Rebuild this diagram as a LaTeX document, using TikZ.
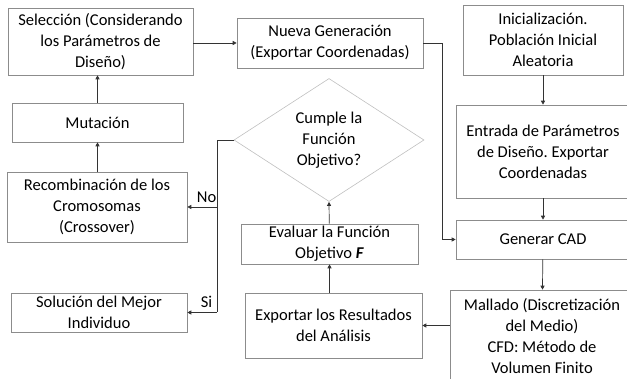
\documentclass[tikz,border=0pt]{standalone}
\usepackage{fontspec}
\setmainfont{Carlito}
\usetikzlibrary{arrows.meta,shapes.geometric}
\frenchspacing

\begin{document}
\begin{tikzpicture}[x=1pt, y=-1pt,
    font=\fontsize{16.5}{21}\selectfont, text=black,
    box/.style={draw=black!45, line width=0.6pt, align=center, inner sep=0pt},
    cond/.style={draw=black!25, line width=0.6pt, shape=diamond, align=center, inner sep=0pt},
    link/.style={draw=black!80, line width=0.7pt},
    arr/.style={link, -{Triangle[length=4pt, width=4pt]}}]

  \useasboundingbox (0, 0) rectangle (627, 379);

  % boxes
  \node[box, minimum width=185pt, minimum height=67pt] (sel) at (100.5, 41.5) {Selección (Considerando\\los Parámetros de\\Diseño)};
  \node[box, minimum width=171pt, minimum height=39pt] (mut) at (97.5, 122.5) {Mutación};
  \node[box, minimum width=180pt, minimum height=70pt] (rec) at (97, 207) {Recombinación de los\\Cromosomas\\(Crossover)};
  \node[box, minimum width=176pt, minimum height=39pt] (sol) at (99, 312.5) {Solución del Mejor\\Individuo};
  \node[box, minimum width=186pt, minimum height=50pt] (nue) at (330, 43) {Nueva Generación\\(Exportar Coordenadas)};
  \node[box, minimum width=160pt, minimum height=70pt] (ini) at (543, 40) {Inicialización.\\Población Inicial\\Aleatoria};
  \node[box, minimum width=174pt, minimum height=93pt] (ent) at (543, 151.5) {Entrada de Parámetros\\de Diseño. Exportar\\Coordenadas};
  \node[box, minimum width=174pt, minimum height=39pt] (gen) at (543, 239.5) {Generar CAD};
  \node[box, minimum width=184pt, minimum height=93pt] (mal) at (542, 336.5) {Mallado (Discretización\\del Medio)\\CFD: Método de\\Volumen Finito};
  \node[box, minimum width=177pt, minimum height=40pt] (eva) at (329.5, 244) {Evaluar la Función\\Objetivo \textbf{\textit{F}}};
  \node[box, minimum width=177pt, minimum height=65pt] (exp) at (333.5, 325.5) {Exportar los Resultados\\del Análisis};
  \node[cond, minimum width=190pt, minimum height=110pt] (cum) at (329, 140) {Cumple la\\Función\\Objetivo?};

  \coordinate (split) at (217, 140);
  \coordinate (turn) at (442, 43);

  % connectors
  \draw[arr] (ini) -- (ent);
  \draw[arr] (ent) -- (gen);
  \draw[arr] (gen) -- (mal);
  \draw[arr] (exp.east -| mal.west) -- (exp.east);
  \draw[arr] (eva.south |- exp.north) -- (eva.south);
  \draw[arr] (eva) -- (cum.south);
  \draw[arr] (sel.east |- nue.west) -- (nue.west);
  \draw[arr] (mut.north -| 97.5, 0) -- (sel.south -| 97.5, 0);
  \draw[arr] (rec.north -| 97.5, 0) -- (mut.south -| 97.5, 0);
  \draw[arr] (nue.east) -- (turn) |- (gen.west);
  \draw[link] (cum.west) -- (split) -- (split |- sol.east);
  \draw[arr] (split |- rec.east) -- (rec.east) node[pos=0.35, above=1pt] (no) {No};
  \draw[arr] (split |- sol.east) -- (sol.east) node[pos=0.35, above=1pt] (si) {Si};

\end{tikzpicture}
\end{document}
